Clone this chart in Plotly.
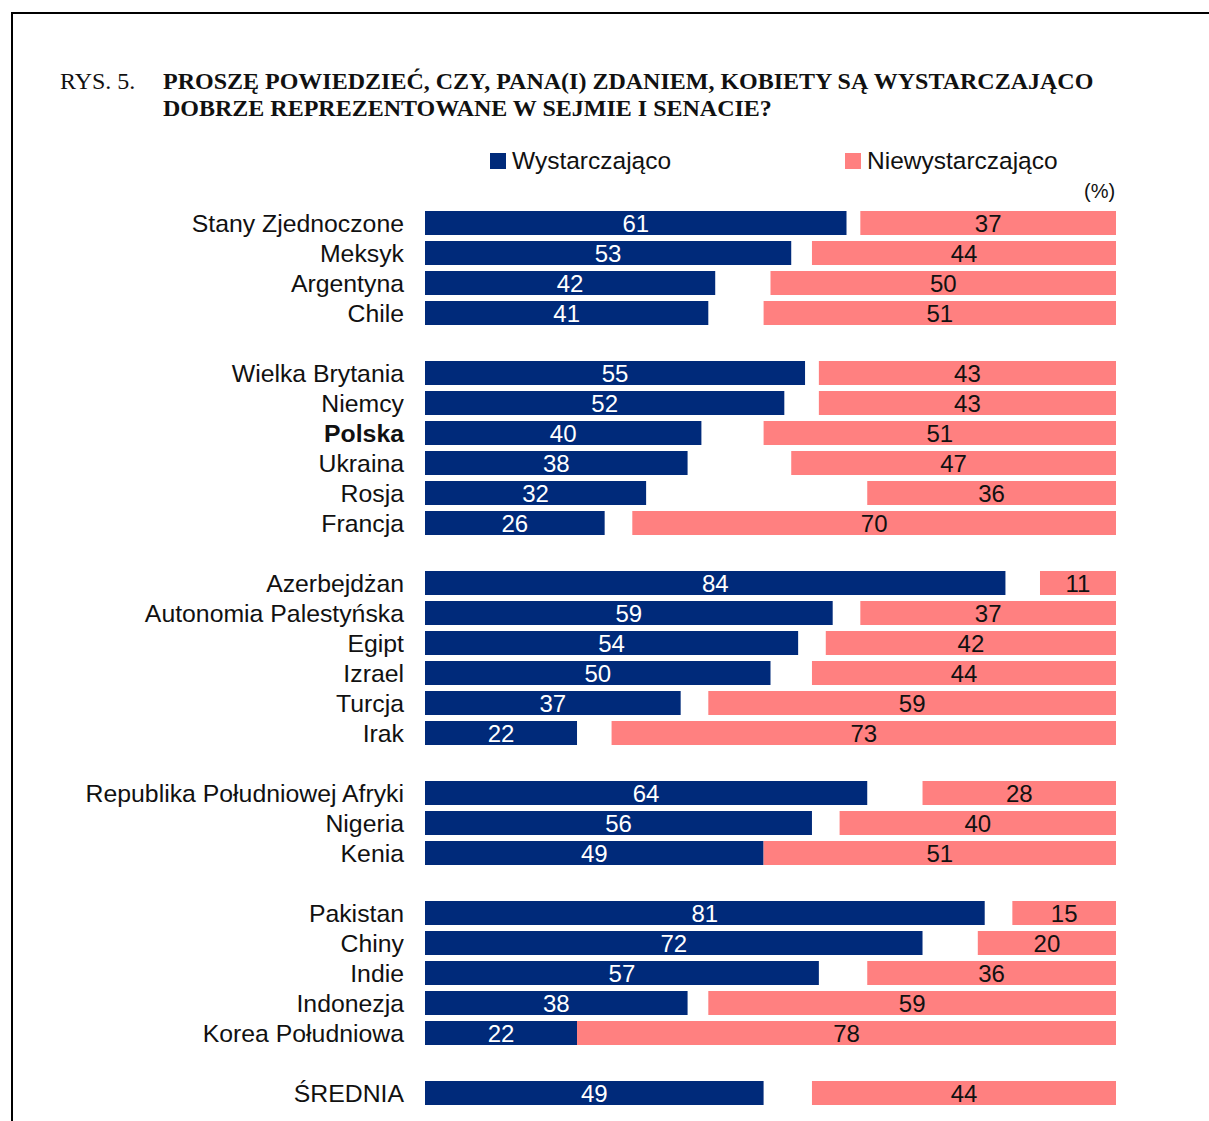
import plotly.graph_objects as go

countries = [
    "Stany Zjednoczone", "Meksyk", "Argentyna", "Chile", " ",
    "Wielka Brytania", "Niemcy", "<b>Polska</b>", "Ukraina", "Rosja", "Francja", "  ",
    "Azerbejdżan", "Autonomia Palestyńska", "Egipt", "Izrael", "Turcja", "Irak", "   ",
    "Republika Południowej Afryki", "Nigeria", "Kenia", "    ",
    "Pakistan", "Chiny", "Indie", "Indonezja", "Korea Południowa", "     ",
    "ŚREDNIA",
]
wystarczajaco = [61, 53, 42, 41, None,
                 55, 52, 40, 38, 32, 26, None,
                 84, 59, 54, 50, 37, 22, None,
                 64, 56, 49, None,
                 81, 72, 57, 38, 22, None,
                 49]
niewystarczajaco = [37, 44, 50, 51, None,
                    43, 43, 51, 47, 36, 70, None,
                    11, 37, 42, 44, 59, 73, None,
                    28, 40, 51, None,
                    15, 20, 36, 59, 78, None,
                    44]
series_names = ["Wystarczająco", "Niewystarczająco"]

BLUE = "#002A7A"
PINK = "#FF8080"
W, H = 1209, 1121
L, R, T, B = 425, 93, 208, 13
PW, PH = W - L - R, H - T - B


def px_x(px):
    return (px - L) / PW


def px_y(py):
    return 1 - (py - T) / PH


pink_base = [None if v is None else 100 - v for v in niewystarczajaco]
SANS = "Liberation Sans, Arial"
SERIF = "Liberation Serif, Times New Roman"

fig = go.Figure()
fig.add_trace(go.Bar(
    y=countries, x=wystarczajaco, orientation="h", name=series_names[0],
    marker=dict(color=BLUE, line=dict(width=0)),
    text=wystarczajaco, texttemplate="%{x}", textposition="inside",
    insidetextanchor="middle", textangle=0, constraintext="none",
    textfont=dict(color="white", size=24, family=SANS),
    hoverinfo="skip", showlegend=False,
))
fig.add_trace(go.Bar(
    y=countries, x=niewystarczajaco, base=pink_base, orientation="h", name=series_names[1],
    marker=dict(color=PINK, line=dict(width=0)),
    text=niewystarczajaco, texttemplate="%{text}", textposition="inside",
    insidetextanchor="middle", textangle=0, constraintext="none",
    textfont=dict(color="#111111", size=24, family=SANS),
    hoverinfo="skip", showlegend=False,
))

fig.update_layout(
    width=W, height=H,
    margin=dict(l=L, r=R, t=T, b=B, autoexpand=False),
    paper_bgcolor="white", plot_bgcolor="white",
    barmode="overlay", bargap=0.2,
    font=dict(family=SANS, size=24, color="#111111"),
    xaxis=dict(range=[0, 100], visible=False, fixedrange=True),
    yaxis=dict(categoryorder="array", categoryarray=countries, autorange="reversed",
               showgrid=False, zeroline=False, showline=False, ticks="",
               ticklabelstandoff=20, tickfont=dict(size=24.8, color="#111111", family=SANS)),
    showlegend=False,
)

# title
fig.add_annotation(xref="paper", yref="paper", x=px_x(58), y=px_y(81), xanchor="left", yanchor="middle",
                   text="RYS. 5.", showarrow=False, font=dict(family=SERIF, size=24, color="#111111"))
fig.add_annotation(xref="paper", yref="paper", x=px_x(161), y=px_y(81), xanchor="left", yanchor="middle",
                   text="<b>PROSZĘ POWIEDZIEĆ, CZY, PANA(I) ZDANIEM, KOBIETY SĄ WYSTARCZAJĄCO</b>",
                   showarrow=False, font=dict(family=SERIF, size=24, color="#111111"))
fig.add_annotation(xref="paper", yref="paper", x=px_x(161), y=px_y(108), xanchor="left", yanchor="middle",
                   text="<b>DOBRZE REPREZENTOWANE W SEJMIE I SENACIE?</b>",
                   showarrow=False, font=dict(family=SERIF, size=24, color="#111111"))
fig.add_annotation(xref="paper", yref="paper", x=px_x(1117), y=px_y(191), xanchor="right", yanchor="middle",
                   text="(%)", showarrow=False, font=dict(size=20, color="#111111"))

# legend (drawn manually)
for name, color, sx in zip(series_names, [BLUE, PINK], [490, 845]):
    fig.add_shape(type="rect", xref="paper", yref="paper",
                  x0=px_x(sx), x1=px_x(sx + 16), y0=px_y(153), y1=px_y(169),
                  fillcolor=color, line=dict(width=0))
    fig.add_annotation(xref="paper", yref="paper", x=px_x(sx + 20), y=px_y(160),
                       xanchor="left", yanchor="middle", text=name, showarrow=False,
                       font=dict(family=SANS, size=24.5, color="#111111"))

# frame
fig.add_shape(type="line", xref="paper", yref="paper", x0=px_x(11), x1=px_x(1215), y0=px_y(13), y1=px_y(13),
              line=dict(color="black", width=2))
fig.add_shape(type="line", xref="paper", yref="paper", x0=px_x(12), x1=px_x(12), y0=px_y(12), y1=px_y(1125),
              line=dict(color="black", width=2))

fig.write_html("out.html")
